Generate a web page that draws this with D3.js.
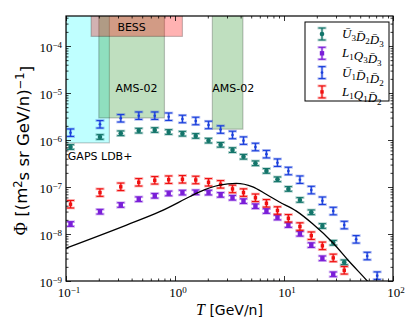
<!DOCTYPE html>
<html>
<head>
<meta charset="utf-8">
<script src="https://cdn.jsdelivr.net/npm/d3@7"></script>
<style>
  body { margin: 0; background: #fff; }
  svg { display: block; }
</style>
</head>
<body>
<div id="chart"></div>
<script>
// kinetic energy grid (GeV/n) shared by the four spectra
const energies = [0.110, 0.205, 0.318, 0.465, 0.652, 0.875, 1.17, 1.55, 2.03, 2.62, 3.37, 4.25,
                  5.47, 6.90, 8.71, 10.97, 14.0, 17.8, 22.5, 28.3, 35.7, 45.9, 58.0, 71.6];

const fluxU3D2D3 = [7.1e-7, 1.16e-6, 1.39e-6, 1.58e-6, 1.63e-6, 1.48e-6, 1.36e-6, 1.22e-6, 9.7e-7, 7.9e-7,
                    6.1e-7, 4.4e-7, 3.2e-7, 2.2e-7, 1.46e-7, 9.1e-8, 5.3e-8, 2.9e-8, 1.48e-8, 6.5e-9, 2.5e-9];
const fluxL1Q3D3 = [1.63e-8, 2.98e-8, 4.14e-8, 5.5e-8, 6.5e-8, 7.3e-8, 7.6e-8, 7.7e-8, 7.6e-8, 6.8e-8,
                    5.9e-8, 5.0e-8, 3.9e-8, 3.08e-8, 2.24e-8, 1.55e-8, 1.01e-8, 5.8e-9, 3.04e-9, 1.39e-9];
const fluxU1D1D2 = [1.43e-6, 2.16e-6, 2.90e-6, 3.29e-6, 3.29e-6, 3.13e-6, 2.80e-6, 2.54e-6, 2.09e-6, 1.67e-6,
                    1.28e-6, 9.7e-7, 7.1e-7, 5.0e-7, 3.29e-7, 2.19e-7, 1.43e-7, 8.6e-8, 5.1e-8, 3.08e-8,
                    1.55e-8, 7.7e-9, 3.4e-9, 1.30e-9];
const fluxL1Q1D2 = [4.3e-8, 7.6e-8, 1.01e-7, 1.26e-7, 1.39e-7, 1.43e-7, 1.46e-7, 1.41e-7, 1.26e-7, 1.14e-7,
                    9.1e-8, 7.6e-8, 5.9e-8, 4.5e-8, 3.16e-8, 2.16e-8, 1.44e-8, 9.2e-9, 5.6e-9, 3.1e-9, 1.69e-9];

// error bar half size, in decades
const errU3D2D3 = 0.05;
const errL1Q3D3 = 0.05;
const errU1D1D2 = 0.08;
const errL1Q1D2 = 0.08;

// black background curve
const bgEnergy = [0.1, 0.359, 0.724, 1.36, 1.68, 2.56, 3.65, 5.17, 6.86, 9.08, 12.9, 18.3, 27.9, 39.7, 59.3, 75];
const bgFlux = [5.0e-9, 1.55e-8, 2.98e-8, 6.2e-8, 7.9e-8, 1.10e-7, 1.20e-7, 1.01e-7, 7.0e-8,
                4.8e-8, 3.1e-8, 1.65e-8, 6.6e-9, 2.6e-9, 9.5e-10, 5e-10];

// experiment sensitivity regions
const boxNames = ["GAPS LDB+", "AMS-02", "AMS-02", "BESS"];
const boxTmin = [0.1, 0.2, 2.2, 0.17];
const boxTmax = [0.25, 0.8, 4.2, 1.17];
const boxLimit = [8.7e-7, 2.95e-6, 1.7e-6, 1.6e-4];

const legendNames = [
    [["U", "3", true], ["D", "2", true], ["D", "3", true]],
    [["L", "1", false], ["Q", "3", false], ["D", "3", true]],
    [["U", "1", true], ["D", "1", true], ["D", "2", true]],
    [["L", "1", false], ["Q", "1", false], ["D", "2", true]]
];

const xMajor = [0.1, 1, 10, 100];
const xExp = ["\u22121", "0", "1", "2"];
const yMajor = [1e-9, 1e-8, 1e-7, 1e-6, 1e-5, 1e-4];
const yExp = ["\u22129", "\u22128", "\u22127", "\u22126", "\u22125", "\u22124"];

const WIDTH = 415, HEIGHT = 332;
const LEFT = 66, RIGHT = 393, TOP = 16, BOTTOM = 281;

const svg = d3.select("#chart").append("svg")
    .attr("width", WIDTH).attr("height", HEIGHT);

const x = d3.scaleLog().domain([0.1, 100]).range([LEFT, RIGHT]);
const y = d3.scaleLog().domain([1e-9, 4.35e-4]).range([BOTTOM, TOP]);

svg.append("clipPath").attr("id", "clip")
    .append("rect").attr("x", LEFT).attr("y", TOP)
    .attr("width", RIGHT - LEFT).attr("height", BOTTOM - TOP);

const plot = svg.append("g").attr("clip-path", "url(#clip)");

// sensitivity boxes
const boxFill = ["#00ffff", "#008000", "#008000", "#ff0000"];
const boxAlpha = [0.25, 0.25, 0.25, 0.3];
boxNames.forEach((name, i) => {
    plot.append("rect")
        .attr("x", x(boxTmin[i]))
        .attr("y", TOP - 5)
        .attr("width", x(boxTmax[i]) - x(boxTmin[i]))
        .attr("height", y(boxLimit[i]) - TOP + 5)
        .attr("fill", boxFill[i]).attr("fill-opacity", boxAlpha[i])
        .attr("stroke", "#000").attr("stroke-opacity", 0.22).attr("stroke-width", 1.2);
});

const annotations = [
    {text: "BESS", t: 0.4, f: 2.55e-4, anchor: "middle"},
    {text: "AMS-02", t: 0.285, f: 1.25e-5, anchor: "start"},
    {text: "AMS-02", t: 2.2, f: 1.25e-5, anchor: "start"},
    {text: "GAPS LDB+", t: 0.104, f: 4.6e-7, anchor: "start"}
];
plot.selectAll("text.ann").data(annotations).join("text")
    .attr("class", "ann")
    .attr("x", d => x(d.t)).attr("y", d => y(d.f))
    .attr("dy", "0.36em")
    .attr("text-anchor", d => d.anchor)
    .attr("font-family", "DejaVu Sans").attr("font-size", 11)
    .text(d => d.text);

// data series
const series = [
    {flux: fluxU3D2D3, err: errU3D2D3, color: "#13756a", marker: "circle", size: 2.3},
    {flux: fluxL1Q3D3, err: errL1Q3D3, color: "#7a1ed8", marker: "square", size: 4.4},
    {flux: fluxU1D1D2, err: errU1D1D2, color: "#1a3fdc", marker: "circle", size: 1.3},
    {flux: fluxL1Q1D2, err: errL1Q1D2, color: "#f01010", marker: "square", size: 3.4}
];

const drawErrorbar = (g, cx, cy, lo, hi, s) => {
    // pale wide layer underneath
    const pale = g.append("g").attr("stroke", s.color).attr("stroke-opacity", 0.35).attr("stroke-width", 2.6);
    pale.append("line").attr("x1", cx).attr("x2", cx).attr("y1", lo).attr("y2", hi);
    pale.append("line").attr("x1", cx - 4.5).attr("x2", cx + 4.5).attr("y1", lo).attr("y2", lo);
    pale.append("line").attr("x1", cx - 4.5).attr("x2", cx + 4.5).attr("y1", hi).attr("y2", hi);
    const dark = g.append("g").attr("stroke", s.color).attr("stroke-width", 1.1);
    dark.append("line").attr("x1", cx).attr("x2", cx).attr("y1", lo).attr("y2", hi);
    dark.append("line").attr("x1", cx - 3.5).attr("x2", cx + 3.5).attr("y1", lo).attr("y2", lo);
    dark.append("line").attr("x1", cx - 3.5).attr("x2", cx + 3.5).attr("y1", hi).attr("y2", hi);
    if (s.marker === "circle") {
        g.append("circle").attr("cx", cx).attr("cy", cy).attr("r", s.size).attr("fill", s.color);
    } else {
        g.append("rect").attr("x", cx - s.size / 2).attr("y", cy - s.size / 2)
            .attr("width", s.size).attr("height", s.size).attr("fill", s.color);
    }
};

series.forEach(s => {
    const g = plot.append("g");
    s.flux.forEach((f, i) => {
        const cx = x(energies[i]);
        drawErrorbar(g, cx, y(f), y(f * Math.pow(10, -s.err)), y(f * Math.pow(10, s.err)), s);
    });
});

// background curve
const line = d3.line()
    .x((d, i) => x(bgEnergy[i]))
    .y(d => y(d))
    .curve(d3.curveMonotoneX);
plot.append("path")
    .attr("d", line(bgFlux))
    .attr("fill", "none").attr("stroke", "#000").attr("stroke-width", 1.3);

// ticks on all four sides, pointing inwards
const xMinor = [];
[-1, 0, 1].forEach(e => { for (let k = 2; k <= 9; k++) xMinor.push(k * Math.pow(10, e)); });
const yMinor = [];
[-9, -8, -7, -6, -5, -4].forEach(e => {
    for (let k = 2; k <= 9; k++) { const v = k * Math.pow(10, e); if (v < 4.35e-4) yMinor.push(v); }
});

const addAxis = (axis, tr) => {
    const g = svg.append("g").attr("transform", tr).call(axis);
    g.select(".domain").remove();
    g.selectAll(".tick line").attr("stroke", "#000").attr("stroke-width", 0.8);
    return g;
};
addAxis(d3.axisBottom(x).tickValues(xMinor).tickSize(-2.5).tickFormat(""), `translate(0,${BOTTOM})`);
addAxis(d3.axisBottom(x).tickValues(xMajor).tickSize(-5).tickFormat(""), `translate(0,${BOTTOM})`);
addAxis(d3.axisTop(x).tickValues(xMinor).tickSize(-2.5).tickFormat(""), `translate(0,${TOP})`);
addAxis(d3.axisTop(x).tickValues(xMajor).tickSize(-5).tickFormat(""), `translate(0,${TOP})`);
addAxis(d3.axisLeft(y).tickValues(yMinor).tickSize(-2.5).tickFormat(""), `translate(${LEFT},0)`);
addAxis(d3.axisLeft(y).tickValues(yMajor).tickSize(-5).tickFormat(""), `translate(${LEFT},0)`);
addAxis(d3.axisRight(y).tickValues(yMinor).tickSize(-2.5).tickFormat(""), `translate(${RIGHT},0)`);
addAxis(d3.axisRight(y).tickValues(yMajor).tickSize(-5).tickFormat(""), `translate(${RIGHT},0)`);

svg.append("rect")
    .attr("x", LEFT).attr("y", TOP).attr("width", RIGHT - LEFT).attr("height", BOTTOM - TOP)
    .attr("fill", "none").attr("stroke", "#000").attr("stroke-width", 1.2);

// tick labels as 10^n
const powerLabel = (sel, exp) => {
    sel.append("tspan").text("10");
    sel.append("tspan").attr("dy", "-0.5em").attr("font-size", 9).text(exp);
};
xMajor.forEach((v, i) => {
    svg.append("text")
        .attr("x", x(v) + 3).attr("y", 297)
        .attr("text-anchor", "middle")
        .attr("font-family", "Liberation Serif").attr("font-size", 13)
        .call(powerLabel, xExp[i]);
});
yMajor.forEach((v, i) => {
    svg.append("text")
        .attr("x", LEFT - 4).attr("y", y(v) + 6)
        .attr("text-anchor", "end")
        .attr("font-family", "Liberation Serif").attr("font-size", 13)
        .call(powerLabel, yExp[i]);
});

// axis titles
const xTitle = svg.append("text")
    .attr("x", (LEFT + RIGHT) / 2).attr("y", 315)
    .attr("text-anchor", "middle")
    .attr("font-family", "DejaVu Sans").attr("font-size", 14);
xTitle.append("tspan").attr("font-family", "Liberation Serif").attr("font-style", "italic")
    .attr("font-size", 16).text("T");
xTitle.append("tspan").text(" [GeV/n]");

const yTitle = svg.append("text")
    .attr("transform", `translate(27,${(TOP + BOTTOM) / 2 + 2}) rotate(-90)`)
    .attr("text-anchor", "middle")
    .attr("font-family", "DejaVu Sans").attr("font-size", 16.5);
yTitle.append("tspan").attr("font-family", "Liberation Serif").attr("font-size", 18).text("\u03a6");
yTitle.append("tspan").text(" [(m");
yTitle.append("tspan").attr("dy", "-0.45em").attr("font-size", 11.5).text("2");
yTitle.append("tspan").attr("dy", "0.45em").text("s sr GeV/n)");
yTitle.append("tspan").attr("dy", "-0.45em").attr("font-size", 11.5).text("\u22121");
yTitle.append("tspan").attr("dy", "0.45em").text("]");

// legend
const legend = svg.append("g");
legend.append("rect")
    .attr("x", 305).attr("y", 22).attr("width", 84).attr("height", 79)
    .attr("fill", "#fff").attr("stroke", "#000").attr("stroke-width", 1);
series.forEach((s, i) => {
    const ly = 34 + i * 19.3;
    drawErrorbar(legend.append("g"), 322, ly, ly + 6, ly - 6, s);
    const t = legend.append("text")
        .attr("x", 342).attr("y", ly + 4)
        .attr("font-family", "Liberation Serif").attr("font-style", "italic").attr("font-size", 13);
    legendNames[i].forEach(([base, sub, bar]) => {
        t.append("tspan").attr("dy", 0).text(bar ? base + "\u0304" : base);
        t.append("tspan").attr("dy", 3).attr("font-size", 9).attr("font-style", "normal").text(sub);
        t.append("tspan").attr("dy", -3).text("");
    });
});
</script>
</body>
</html>
